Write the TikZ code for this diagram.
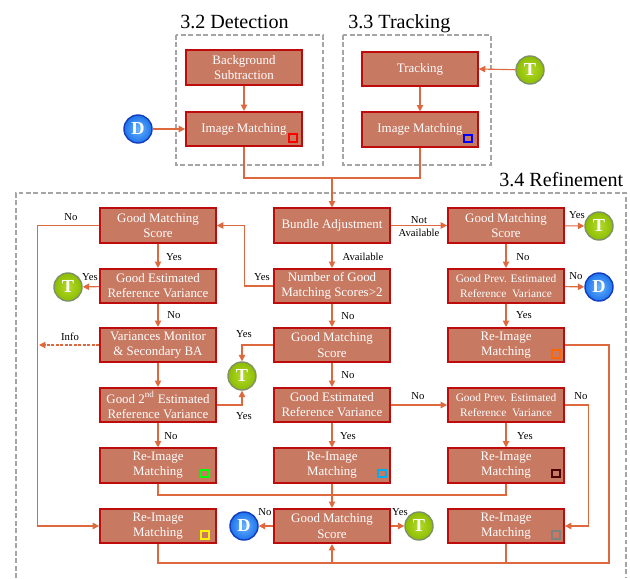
\documentclass[tikz,border=0pt]{standalone}
\usepackage{fontspec}
\setmainfont{Liberation Serif}
\usetikzlibrary{arrows.meta,positioning}

\definecolor{boxfill}{RGB}{199,121,98}
\definecolor{boxline}{RGB}{190,12,12}
\definecolor{flow}{RGB}{222,105,62}
\definecolor{stagegray}{RGB}{165,165,165}
\definecolor{dlight}{RGB}{105,180,255}
\definecolor{ddark}{RGB}{30,115,235}
\definecolor{dline}{RGB}{20,60,190}
\definecolor{tlight}{RGB}{180,218,45}
\definecolor{tdark}{RGB}{140,188,0}
\definecolor{tline}{RGB}{125,145,105}

\begin{document}
\begin{tikzpicture}[x=0.025cm, y=-0.025cm,
    block/.style={rectangle, draw=boxline, fill=boxfill, line width=1.2pt,
        minimum width=2.9cm, minimum height=0.86cm, inner sep=1pt,
        align=center, text=white, font=\fontsize{9.2}{10.8}\selectfont},
    smallblock/.style={block, font=\fontsize{8.1}{10.2}\selectfont},
    term/.style={circle, minimum size=0.7cm, inner sep=0pt, line width=1pt,
        text=white, font=\bfseries\fontsize{13}{13}\selectfont},
    dterm/.style={term, draw=dline, shade, inner color=dlight, outer color=ddark},
    tterm/.style={term, draw=tline, shade, inner color=tlight, outer color=tdark},
    tag/.style={draw=#1, line width=1.3pt, minimum size=0.19cm, inner sep=0pt},
    arrow/.style={-{Triangle[length=1.6mm, width=1.6mm]}, flow, line width=0.8pt},
    link/.style={flow, line width=0.8pt},
    stage/.style={stagegray, line width=1.4pt, dash pattern=on 3.5pt off 1.8pt},
    lbl/.style={font=\fontsize{7.6}{9}\selectfont, inner sep=0pt},
    heading/.style={font=\fontsize{14.3}{16}\selectfont, inner sep=0pt, anchor=base west}
]
\useasboundingbox (0,0) rectangle (630,578);

% Stage frames and titles
\draw[stage] (176,35) rectangle (323,165);
\draw[stage] (343,35) rectangle (491,165);
\draw[stage] (16,578) -- (16,193) -- (626,193) -- (626,578);
\node[heading] (hdet) at (180,29) {3.2 Detection};
\node[heading] (htrk) at (348,29) {3.3 Tracking};
\node[heading] (href) at (499,186) {3.4 Refinement};

% Detection
\node[block] (bg) at (244,67.5) {Background\\Subtraction};
\node[block] (dim) at (244,129) {Image Matching};
\node[dterm] (d1) at (138,129) {D};

% Tracking
\node[block] (trk) at (420,69) {Tracking};
\node[block] (tim) at (420,129.5) {Image Matching};
\node[tterm] (t1) at (530,70) {T};

% Refinement: left column
\node[block] (l1) at (158,225.5) {Good Matching\\Score};
\node[block] (l2) at (158,286) {Good Estimated\\Reference Variance};
\node[block] (l3) at (158,345) {Variances Monitor\\\& Secondary BA};
\node[block] (l4) at (158,405) {Good 2\textsuperscript{nd} Estimated\\Reference Variance};
\node[block] (l5) at (158,465.5) {Re-Image\\Matching};
\node[block] (l6) at (158,526) {Re-Image\\Matching};

% Refinement: middle column
\node[block] (m1) at (332,225.5) {Bundle Adjustment};
\node[block] (m2) at (332,286) {Number of Good\\Matching Scores>2};
\node[block] (m3) at (332,345) {Good Matching\\Score};
\node[block] (m4) at (332,405) {Good Estimated\\Reference Variance};
\node[block] (m5) at (332,465.5) {Re-Image\\Matching};
\node[block] (m6) at (332,526) {Good Matching\\Score};

% Refinement: right column
\node[block] (r1) at (506,225.5) {Good Matching\\Score};
\node[smallblock] (r2) at (506,286) {Good Prev. Estimated\\Reference\ \ Variance};
\node[block] (r3) at (506,345) {Re-Image\\Matching};
\node[smallblock] (r4) at (506,405) {Good Prev. Estimated\\Reference\ \ Variance};
\node[block] (r5) at (506,465.5) {Re-Image\\Matching};
\node[block] (r6) at (506,526) {Re-Image\\Matching};

% Terminals
\node[tterm] (t2) at (68,287) {T};
\node[tterm] (t3) at (242,376) {T};
\node[tterm] (t4) at (599,226) {T};
\node[dterm] (d2) at (599,287) {D};
\node[dterm] (d3) at (244,526) {D};
\node[tterm] (t5) at (419,526) {T};

% Colour tags
\node[tag=red] (g1) at ([shift={(-10,-9)}]dim.south east) {};
\node[tag=blue] (g2) at ([shift={(-11,-9)}]tim.south east) {};
\node[tag=orange!80!red] (g3) at ([shift={(-9,-9)}]r3.south east) {};
\node[tag=green] (g4) at ([shift={(-12,-10)}]l5.south east) {};
\node[tag=cyan] (g5) at ([shift={(-9,-10)}]m5.south east) {};
\node[tag={black!70!red}] (g6) at ([shift={(-9,-10)}]r5.south east) {};
\node[tag=yellow] (g7) at ([shift={(-12,-9)}]l6.south east) {};
\node[tag=gray] (g8) at ([shift={(-9,-9)}]r6.south east) {};

% Detection and tracking flow
\draw[arrow] (d1) -- (dim.west);
\draw[arrow] (bg) -- (dim);
\draw[arrow] (t1) -- (trk.east);
\draw[arrow] (trk) -- (tim);
\coordinate (join) at (332,178);
\draw[link] (dim.south) |- (join) -| (tim.south);
\draw[arrow] (join) -- (m1.north);

% Refinement flow
\draw[arrow] (m1) -- (r1);
\draw[arrow] (m1) -- (m2);
\draw[arrow] (m2.west) -- ++(-29,0) |- (l1.east);
\draw[arrow] (m2) -- (m3);
\draw[arrow] (m3.west) -| (t3.north);
\draw[arrow] (m3) -- (m4);
\draw[arrow] (m4) -- (r4);
\draw[arrow] (m4) -- (m5);
\draw[arrow] (m5) -- (m6);
\draw[arrow] (m6) -- (d3);
\draw[arrow] (m6) -- (t5);

\draw[arrow] (l1) -- (l2);
\draw[arrow] (l2) -- (t2);
\draw[arrow] (l2) -- (l3);
\draw[arrow] (l3) -- (l4);
\draw[arrow] (l4.east) -| (t3.south);
\draw[arrow] (l4) -- (l5);
\draw[arrow] (l1.west) -- ++(-62,0) |- (l6.west);
\coordinate (infoend) at (39,345);
\draw[arrow, dash pattern=on 2pt off 1.2pt] (l3.west) -- (infoend);

\draw[arrow] (r1) -- (t4);
\draw[arrow] (r1) -- (r2);
\draw[arrow] (r2) -- (d2);
\draw[arrow] (r2) -- (r3);
\draw[arrow] (r4) -- (r5);
\draw[arrow] (r4.east) -- ++(24,0) |- (r6.east);

% Merging lines
\draw[link] (l5.south) -- ++(0,11.5) -| (r5.south);
\coordinate (loop) at (609,563);
\draw[link] (l6.south) |- (loop) |- (r3.east);
\draw[link] (r6.south) -- (r6.south |- loop);
\draw[arrow] (m6.south |- loop) -- (m6.south);

% Branch labels
\foreach \pos/\txt [count=\k] in {
    (71,217)/No, (174,257)/Yes, (90,277)/Yes, (174,315)/No, (70,337)/Info,
    (244,334)/Yes, (244,416)/Yes, (171,436)/No, (262,277)/Yes,
    (363,257)/Available, (577,215)/Yes, (523,257)/No, (576,276)/No,
    (524,315)/Yes, (348,316)/No, (348,375)/No, (418,396)/No, (581,396)/No,
    (348,436)/Yes, (525,436)/Yes, (265,512)/No, (400,512)/Yes} {
    \node[lbl] (lab\k) at \pos {\txt};
}
\node[lbl, align=center] (labna) at (419,226.5) {Not\\Available};

\end{tikzpicture}
\end{document}
